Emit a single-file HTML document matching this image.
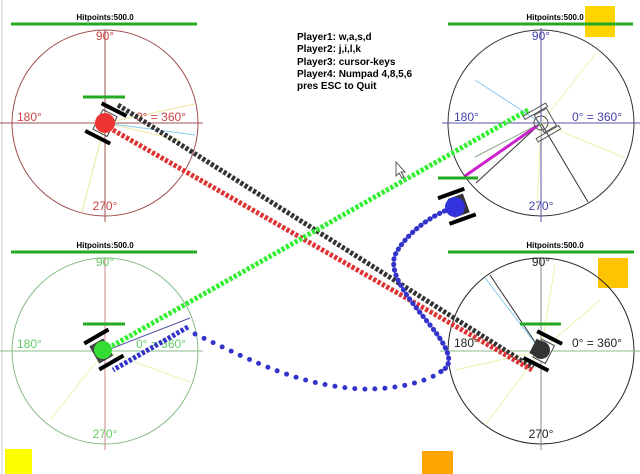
<!DOCTYPE html>
<html><head><style>
html,body{margin:0;padding:0;background:#fff;}
svg{display:block;font-family:"Liberation Sans",sans-serif;}
</style></head><body>
<svg width="640" height="474" viewBox="0 0 640 474" xmlns="http://www.w3.org/2000/svg">
<rect width="640" height="474" fill="#fff"/>
<line x1="2" y1="0" x2="2" y2="474" stroke="#ccc"/>
<rect x="585" y="6" width="30" height="31" fill="#ffd500"/>
<rect x="598" y="258" width="30" height="30" fill="#ffc400"/>
<rect x="5" y="449" width="27" height="25" fill="#ffff00"/>
<rect x="422" y="451" width="31" height="23" fill="#ffa500"/>

<g stroke-width="1" fill="none">
<circle cx="105" cy="123" r="93" stroke="#a05050"/>
<line x1="0" y1="123" x2="203" y2="123" stroke="#a05050"/>
<line x1="105" y1="30" x2="105" y2="222" stroke="#a05050"/>
<line x1="105" y1="123" x2="195" y2="104" stroke="#f0e8a0"/>
<line x1="105" y1="123" x2="195" y2="135" stroke="#88ccee"/>
<line x1="105" y1="123" x2="82" y2="212" stroke="#e8e8a0"/>
<line x1="105" y1="123" x2="180" y2="140" stroke="#f0e8a0"/>
</g>
<g fill="#cc4444" font-size="12">
<text x="105" y="40" text-anchor="middle">90°</text>
<text x="17" y="121">180°</text>
<text x="136" y="121">0° = 360°</text>
<text x="105" y="210" text-anchor="middle">270°</text>
</g>
<g stroke-width="1" fill="none">
<circle cx="541" cy="123" r="93" stroke="#333"/>
<line x1="442" y1="123" x2="640" y2="123" stroke="#5555aa"/>
<line x1="541" y1="28" x2="541" y2="222" stroke="#5555aa"/>
<line x1="541" y1="123" x2="596" y2="53" stroke="#f0f0b0"/>
<line x1="541" y1="123" x2="625" y2="158" stroke="#f0f0b0"/>
<line x1="541" y1="123" x2="537" y2="210" stroke="#f0f0b0"/>
<line x1="541" y1="123" x2="588" y2="202" stroke="#333"/>
<line x1="541" y1="123" x2="476" y2="183" stroke="#333"/>
<line x1="541" y1="123" x2="475" y2="157" stroke="#88aa88"/>
<line x1="541" y1="123" x2="475" y2="80" stroke="#88ccee"/>
</g>
<line x1="537" y1="126" x2="465" y2="176" stroke="#cc22cc" stroke-width="3"/>
<g fill="#4444aa" font-size="12">
<text x="541" y="40" text-anchor="middle">90°</text>
<text x="454" y="121">180°</text>
<text x="572" y="121">0° = 360°</text>
<text x="541" y="210" text-anchor="middle">270°</text>
</g>
<g stroke-width="1" fill="none">
<circle cx="105" cy="351" r="93" stroke="#88bb88"/>
<line x1="0" y1="351" x2="203" y2="351" stroke="#88bb88"/>
<line x1="105" y1="258" x2="105" y2="450" stroke="#cc8888"/>
<line x1="105" y1="351" x2="190" y2="382" stroke="#f0f0b0"/>
<line x1="105" y1="351" x2="50" y2="420" stroke="#f0f0b0"/>
<line x1="105" y1="351" x2="190" y2="318" stroke="#5555aa"/>
</g>
<g fill="#66cc66" font-size="12">
<text x="105" y="266" text-anchor="middle">90°</text>
<text x="17" y="348">180°</text>
<text x="136" y="348">0° = 360°</text>
<text x="105" y="438" text-anchor="middle">270°</text>
</g>
<g stroke-width="1" fill="none">
<circle cx="541" cy="351" r="93" stroke="#222"/>
<line x1="440" y1="351" x2="640" y2="351" stroke="#88bb88"/>
<line x1="541" y1="258" x2="541" y2="450" stroke="#888"/>
<line x1="541" y1="351" x2="490" y2="275" stroke="#333"/>
<line x1="541" y1="351" x2="485" y2="278" stroke="#88ccee"/>
<line x1="541" y1="351" x2="600" y2="300" stroke="#f0f0b0"/>
<line x1="541" y1="351" x2="555" y2="265" stroke="#f0f0b0"/>
<line x1="541" y1="351" x2="455" y2="370" stroke="#f0f0b0"/>
<line x1="541" y1="351" x2="485" y2="425" stroke="#f0f0b0"/>
</g>
<g fill="#222" font-size="12">
<text x="541" y="266" text-anchor="middle">90°</text>
<text x="454" y="347">180°</text>
<text x="572" y="347">0° = 360°</text>
<text x="541" y="438" text-anchor="middle">270°</text>
</g>

<g stroke="#22aa22" stroke-width="3">
<line x1="11" y1="24" x2="197" y2="24"/>
<line x1="448" y1="24" x2="633" y2="24"/>
<line x1="11" y1="252" x2="197" y2="252"/>
<line x1="448" y1="252" x2="634" y2="252"/>
<line x1="83" y1="97" x2="125" y2="97"/>
<line x1="438" y1="178" x2="478" y2="178"/>
<line x1="83" y1="324" x2="125" y2="324"/>
<line x1="520" y1="324" x2="561" y2="324"/>
</g>
<g fill="#000" font-size="8" font-weight="bold" text-anchor="middle">
<text x="105" y="20">Hitpoints:500.0</text>
<text x="555" y="20">Hitpoints:500.0</text>
<text x="105" y="248">Hitpoints:500.0</text>
<text x="555" y="248">Hitpoints:500.0</text>
</g>

<g fill="none" stroke-linecap="butt" stroke-width="5" stroke-dasharray="3.2 1.8">
<line x1="118" y1="105" x2="533" y2="368" stroke="#333"/>
<line x1="113" y1="130" x2="532" y2="370" stroke="#dd3333"/>
<line x1="528" y1="110" x2="105" y2="350" stroke="#33ee33"/>
<line x1="188" y1="327" x2="113" y2="370" stroke="#3333cc"/>
</g>
<g fill="none" stroke-linecap="round" stroke-width="5" stroke-dasharray="0.5 5">
<path d="M455,207 C430,215 405,235 395,255 C388,275 410,300 430,325 C450,350 455,365 440,372" stroke="#3333cc"/>
</g>
<g fill="none" stroke="#3333cc" stroke-width="5" stroke-linecap="round" stroke-dasharray="0 10">
<path d="M195,334 C260,365 300,385 360,389 C400,390 430,380 440,372"/>
</g>

<g transform="translate(105,123) rotate(27)">
<rect x="-8" y="-11" width="16" height="22" fill="none" stroke="#444"/>
<rect x="-12" y="-18" width="28" height="4" fill="#000"/>
<rect x="-14" y="14" width="28" height="4" fill="#000"/>
<circle r="10" fill="#ee3333"/>
</g>
<g transform="translate(455,207) rotate(-20)">
<rect x="-13" y="-16" width="28" height="4" fill="#000"/>
<rect x="-11" y="12" width="28" height="4" fill="#000"/>
<rect x="-4" y="-10" width="16" height="20" fill="#333"/>
<circle r="10" fill="#3333dd"/>
</g>
<g transform="translate(103,350) rotate(-30)">
<rect x="-10" y="-10" width="16" height="20" fill="#444"/>
<rect x="-13" y="-17" width="28" height="4" fill="#000"/>
<rect x="-13" y="13" width="28" height="4" fill="#000"/>
<circle r="9" fill="#33dd33"/>
</g>
<g transform="translate(541,350) rotate(27)">
<rect x="-4" y="-10" width="14" height="20" fill="#fff" stroke="#444"/>
<rect x="-12" y="-17" width="28" height="4" fill="#000"/>
<rect x="-12" y="13" width="28" height="4" fill="#000"/>
<circle r="9" fill="#333"/>
<rect x="-9" y="-8" width="12" height="16" fill="#333"/>
</g>
<g transform="translate(541,123) rotate(-30)" fill="none" stroke="#555">
<rect x="-12" y="-15" width="26" height="4"/>
<rect x="-12" y="11" width="26" height="4"/>
<rect x="-2" y="-10" width="14" height="20"/>
<circle r="7"/>
</g>
<path d="M396,162 L396,176 L399,173 L402,178 L404,177 L401,172 L405,172 Z" fill="#fff" stroke="#333" stroke-width="0.8"/>

<g fill="#000" font-size="10" font-weight="bold">
<text x="297" y="40">Player1: w,a,s,d</text>
<text x="297" y="52">Player2: j,i,l,k</text>
<text x="297" y="65">Player3: cursor-keys</text>
<text x="297" y="77">Player4: Numpad 4,8,5,6</text>
<text x="297" y="89">pres ESC to Quit</text>
</g>
</svg>
</body></html>
